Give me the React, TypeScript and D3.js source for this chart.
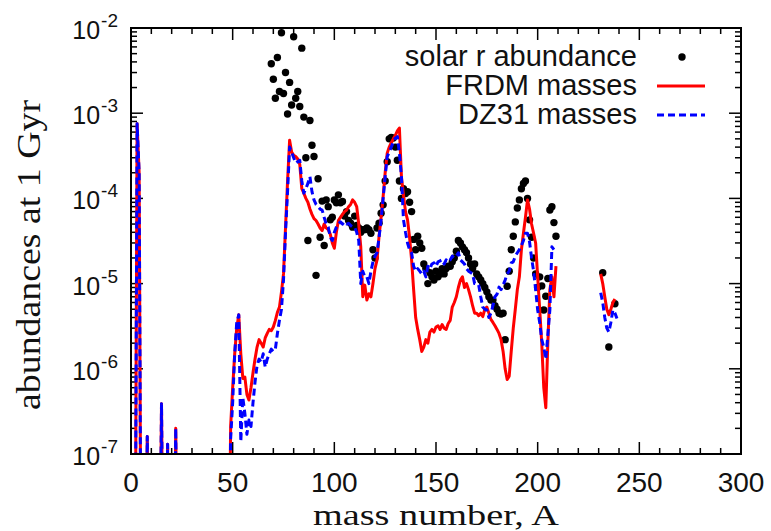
import React from "react";
import * as d3 from "d3";

// ---- data ----
const solarA = [69,70,71,72,73,74,75,76,77,78,79,80,81,82,83,84,85,86,87,88,89,90,91,92,93,
  94,95,96,97,98,99,100,101,102,103,104,105,106,107,108,109,110,111,112,113,114,115,116,117,118,119,120,
  121,122,123,124,125,126,127,128,129,130,131,132,133,134,135,136,137,138,139,140,141,142,143,144,145,146,
  147,148,149,150,151,152,153,154,155,156,157,158,159,160,161,162,163,164,165,166,167,168,169,170,171,172,
  173,174,175,176,177,178,179,180,181,182,183,184,185,186,187,188,189,190,191,192,193,194,195,196,197,198,
  199,200,201,202,203,204,205,206,207,208,209,232,235,238];
const solarR = [3.8e-3,2.5e-3,1.5e-3,4.5e-3,1.8e-3,8.8e-3,1.7e-3,3.0e-3,9.8e-4,2.3e-3,1.25e-3,7.9e-3,1.5e-3,1.8e-3,1.2e-3,5.8e-3,9e-4,3e-4,3.2e-5,8.2e-4,4.2e-4,3.1e-4,1.25e-5,1.7e-4,3.5e-5,
  9.3e-5,2.8e-5,9.6e-5,8e-5,5.6e-5,6e-5,9.6e-5,8.9e-5,1.1e-4,8.9e-5,9.2e-5,6.2e-5,7e-5,5.5e-5,5.1e-5,4.6e-5,6.2e-5,4.8e-5,4.5e-5,4.0e-5,4.3e-5,4.3e-5,4.5e-5,4.3e-5,3.9e-5,2.5e-5,2.0e-5,
  4.5e-5,5.1e-5,6.7e-5,8.4e-5,1.6e-4,2.7e-4,5e-4,5.2e-4,5.1e-4,4e-4,2.8e-4,1.6e-4,1e-4,1.3e-4,1.14e-4,1.2e-4,9e-5,7e-5,3.3e-5,2.5e-5,3.6e-5,3e-5,2.6e-5,1.7e-5,1.5e-5,1e-5,
  1.34e-5,1.2e-5,1.1e-5,1.4e-5,1.2e-5,1.3e-5,1.5e-5,1.3e-5,1.5e-5,1.6e-5,1.6e-5,1.8e-5,2.0e-5,2.4e-5,3.2e-5,3.0e-5,2.7e-5,2.5e-5,2.3e-5,2.0e-5,1.7e-5,1.5e-5,1.7e-5,1.3e-5,1.2e-5,1.1e-5,
  1.0e-5,9e-6,8e-6,7e-6,6.4e-6,6.4e-6,5.5e-6,5e-6,4.5e-6,4.4e-6,4.5e-6,2.2e-6,9.3e-6,1.4e-5,2.5e-5,3.6e-5,5.3e-5,7.7e-5,9.6e-5,1.3e-4,1.5e-4,1.6e-4,1e-4,5.6e-5,3.5e-5,2.0e-5,
  1.3e-5,9e-6,1.2e-5,9.4e-6,4.9e-6,7.1e-6,1.15e-5,7.3e-5,8e-5,5.2e-5,3.6e-5,1.34e-5,1.8e-6,5.8e-6];

const frdmA = [2,3,4,5,7,8,9,14,15,16,17,18,19,21,22,23,48,
  49,50,51,52,53,54,55,56,57,58,59,60,61,62,63,64,65,66,67,68,69,70,71,72,73,74,75,76,77,78,79,80,81,82,83,
  84,85,86,87,88,89,90,91,92,93,94,95,96,97,98,99,100,101,102,103,104,105,106,107,108,109,110,111,112,113,114,115,116,117,118,119,120,
  121,122,123,124,125,126,127,128,129,130,131,132,133,134,135,136,137,138,139,140,141,142,143,144,145,146,147,148,149,150,
  151,152,153,154,155,156,157,158,159,160,161,162,163,164,165,166,167,168,169,170,171,172,173,174,175,176,177,178,179,180,
  181,182,183,184,185,186,187,188,189,190,191,192,193,194,195,196,197,198,199,200,201,202,203,204,205,206,207,208,209,
  220,231,232,233,234,235,236,237,238];
const frdmY = [1e-9,7.5e-4,2e-4,1e-9,1e-9,1.6e-7,1e-9,1e-9,3.9e-7,1e-9,1e-9,1.3e-7,1e-9,1e-9,2e-7,1e-9,1e-9,
  2.1e-7,6e-7,1.5e-6,3e-6,4.3e-6,1.5e-6,7.7e-7,8e-7,5e-7,4.3e-7,6e-7,9e-7,1.3e-6,1.8e-6,2.2e-6,2e-6,1.8e-6,2.3e-6,2.6e-6,2.9e-6,2.8e-6,3.1e-6,3.7e-6,4.6e-6,5.3e-6,8e-6,1.3e-5,4.6e-5,1.6e-4,4.8e-4,3.5e-4,3.2e-4,3.1e-4,2.9e-4,2.5e-4,
  1.3e-4,1.15e-4,1e-4,9e-5,7.5e-5,6.5e-5,5.8e-5,5.5e-5,5e-5,4.5e-5,4.2e-5,5e-5,4.5e-5,4.3e-5,3.8e-5,3e-5,2.6e-5,4e-5,5.5e-5,6e-5,6.5e-5,7e-5,7.3e-5,8e-5,8.5e-5,9.6e-5,9e-5,8e-5,5e-5,2.7e-5,7e-6,9.6e-6,6.4e-6,7.6e-6,7e-6,1e-5,1.5e-5,
  1.9e-5,3.6e-5,6e-5,1.05e-4,2e-4,3.4e-4,4e-4,4.5e-4,5e-4,5.5e-4,6.2e-4,6.7e-4,1.8e-4,1.1e-4,7e-5,5.6e-5,3.5e-5,1.9e-5,8.5e-6,4e-6,2.9e-6,2.2e-6,1.6e-6,1.8e-6,2.2e-6,2e-6,2.7e-6,2.9e-6,2.7e-6,3.1e-6,
  3.2e-6,2.9e-6,3.3e-6,3e-6,2.9e-6,3.4e-6,3.7e-6,5.3e-6,6e-6,7e-6,9e-6,1.1e-5,1.2e-5,9e-6,1e-5,8.5e-6,7e-6,5.5e-6,4.5e-6,4.5e-6,4.2e-6,4.5e-6,4.1e-6,5e-6,5.3e-6,4.5e-6,3.8e-6,3.5e-6,3.2e-6,2.9e-6,
  2.6e-6,2.2e-6,1.6e-6,1e-6,7.5e-7,8.2e-7,1.6e-6,3e-6,5e-6,8.5e-6,1.2e-5,2.5e-5,3.9e-5,6e-5,9.6e-5,7.5e-5,5e-5,3.9e-5,3e-5,1.2e-5,5e-6,2e-6,6e-7,3.5e-7,2e-6,8.5e-6,1.2e-5,7e-6,1.6e-5,
  null,1.3e-5,1e-5,7e-6,5e-6,4.3e-6,5e-6,6e-6,6.6e-6];

const dz31A = [2,3,4,5,7,8,9,14,15,16,17,18,19,21,22,23,48,
  49,50,51,52,53,54,55,56,57,58,59,60,61,62,63,64,65,66,67,68,69,70,71,72,73,74,75,76,77,78,79,80,81,82,83,
  84,85,86,87,88,89,90,91,92,93,94,95,96,97,98,99,100,101,102,103,104,105,106,107,108,109,110,111,112,113,114,115,116,117,118,119,120,
  121,122,123,124,125,126,127,128,129,130,131,132,133,134,135,136,137,138,139,140,141,142,143,144,145,146,147,148,149,150,
  151,152,153,154,155,156,157,158,159,160,161,162,163,164,165,166,167,168,169,170,171,172,173,174,175,176,177,178,179,180,
  181,182,183,184,185,186,187,188,189,190,191,192,193,194,195,196,197,198,199,200,201,202,203,204,205,206,207,208,
  220,231,232,233,234,235,236,237,238,239];
const dz31Y = [1e-9,7.5e-4,2e-4,1e-9,1e-9,1.6e-7,1e-9,1e-9,3.9e-7,1e-9,1e-9,1.3e-7,1e-9,1e-9,2e-7,1e-9,1e-9,
  1.5e-7,4e-7,1.5e-6,3.5e-6,4.3e-6,1.4e-7,4.6e-7,3e-7,1.7e-7,2.5e-7,2.1e-7,4e-7,7e-7,1.1e-6,1.3e-6,1.2e-6,1.5e-6,1.05e-6,1.3e-6,1.5e-6,1.7e-6,1.6e-6,1.7e-6,2.6e-6,3.7e-6,5e-6,1.1e-5,4e-5,1.2e-4,4e-4,3.5e-4,3e-4,2.6e-4,2.7e-4,2.8e-4,
  1.6e-4,1.15e-4,1.3e-4,1.5e-4,1.8e-4,1.2e-4,9.6e-5,8.5e-5,8e-5,7.5e-5,7.3e-5,6e-5,5e-5,4.6e-5,3.5e-5,3.2e-5,4e-5,4.6e-5,5e-5,5.3e-5,5e-5,5.3e-5,5e-5,5.1e-5,4.8e-5,4.6e-5,4.6e-5,4e-5,3.2e-5,1e-5,1.4e-5,1.2e-5,1.2e-5,1e-5,1.4e-5,1.8e-5,2.1e-5,
  2.3e-5,3.5e-5,5.6e-5,1e-4,1.8e-4,3.1e-4,3.5e-4,4e-4,4.6e-4,5.1e-4,5.3e-4,3.4e-4,1.8e-4,5.6e-5,4e-5,3e-5,2.5e-5,2.3e-5,1.6e-5,1.4e-5,1.5e-5,1.4e-5,1.3e-5,1.4e-5,1.2e-5,1.6e-5,1.5e-5,1.7e-5,1.75e-5,1.6e-5,
  1.8e-5,1.85e-5,1.9e-5,1.7e-5,1.9e-5,1.8e-5,1.9e-5,2.1e-5,2e-5,2.1e-5,2.3e-5,1.9e-5,1.8e-5,1.7e-5,1.5e-5,1.4e-5,1.35e-5,1.3e-5,1e-5,1e-5,9.6e-6,7e-6,5.3e-6,5e-6,4.9e-6,4e-6,4.5e-6,5.5e-6,7e-6,7.5e-6,
  9.1e-6,8.5e-6,9.6e-6,1.1e-5,1.3e-5,1.4e-5,1.75e-5,1.8e-5,2.1e-5,2.3e-5,2.5e-5,2.8e-5,3.2e-5,3.9e-5,3.9e-5,3.1e-5,2e-5,1.4e-5,8.5e-6,4.9e-6,3.5e-6,2.2e-6,1.8e-6,1.3e-6,2.5e-6,4.9e-6,2.7e-5,2.5e-5,
  null,7.8e-6,6e-6,4e-6,3e-6,2.7e-6,3.5e-6,4.9e-6,4.5e-6,3.9e-6];

const xTickValues = [0, 50, 100, 150, 200, 250, 300];
const yTickExponents = [-7, -6, -5, -4, -3, -2];
const legendLabels = ["solar r abundance", "FRDM masses", "DZ31 masses"];

const W = 771, H = 531;
const L = 131, R = 741, T = 28, B = 454;

export default function App() {
  const x = d3.scaleLinear().domain([0, 300]).range([L, R]);
  const y = d3.scaleLog().domain([1e-7, 1e-2]).range([B, T]);

  const line = d3.line<[number, number | null]>()
    .defined(d => d[1] != null)
    .x(d => x(d[0]))
    .y(d => y(d[1] as number));

  const frdm = frdmA.map((a, i) => [a, frdmY[i]] as [number, number | null]);
  const dz31 = dz31A.map((a, i) => [a, dz31Y[i]] as [number, number | null]);

  const xMinor = d3.range(0, 301, 10).filter(v => v % 50 !== 0);
  const yMinor: number[] = [];
  for (let e = -7; e < -2; e++) for (let k = 2; k <= 9; k++) yMinor.push(k * Math.pow(10, e));

  const maj = 12, mnr = 6;
  const sans = "'Liberation Sans', Arial, Helvetica, sans-serif";
  const serif = "'Liberation Serif', 'Times New Roman', serif";

  return (
    <svg width={W} height={H} style={{ position: "fixed", left: 0, top: 0, background: "#fff" }}>
      <defs>
        <clipPath id="plotclip">
          <rect x={L} y={T} width={R - L} height={B - T} />
        </clipPath>
      </defs>
      <rect x={0} y={0} width={W} height={H} fill="#fff" />

      {/* ticks */}
      <g stroke="#000" strokeWidth={1.5}>
        {xTickValues.map(v => (
          <g key={"xt" + v}>
            <line x1={x(v)} x2={x(v)} y1={B} y2={B - maj} />
            <line x1={x(v)} x2={x(v)} y1={T} y2={T + maj} />
          </g>
        ))}
        {xMinor.map(v => (
          <g key={"xm" + v}>
            <line x1={x(v)} x2={x(v)} y1={B} y2={B - mnr} />
            <line x1={x(v)} x2={x(v)} y1={T} y2={T + mnr} />
          </g>
        ))}
        {yTickExponents.map(e => (
          <g key={"yt" + e}>
            <line x1={L} x2={L + maj} y1={y(Math.pow(10, e))} y2={y(Math.pow(10, e))} />
            <line x1={R} x2={R - maj} y1={y(Math.pow(10, e))} y2={y(Math.pow(10, e))} />
          </g>
        ))}
        {yMinor.map((v, i) => (
          <g key={"ym" + i}>
            <line x1={L} x2={L + mnr} y1={y(v)} y2={y(v)} />
            <line x1={R} x2={R - mnr} y1={y(v)} y2={y(v)} />
          </g>
        ))}
      </g>

      {/* tick labels */}
      <g fontFamily={sans} fill="#111">
        {xTickValues.map(v => (
          <text key={"xl" + v} x={x(v)} y={B + 38} textAnchor="middle" fontSize={28}>{v}</text>
        ))}
        {yTickExponents.map(e => (
          <text key={"yl" + e} x={118} y={y(Math.pow(10, e)) + 11} textAnchor="end" fontSize={25}>
            10<tspan fontSize={19} dy={-12} dx={1}>{String(e)}</tspan>
          </text>
        ))}
      </g>

      {/* axis titles */}
      <text x={(L + R) / 2} y={525} textAnchor="middle" fontFamily={serif} fontSize={30}
        textLength={246} lengthAdjust="spacingAndGlyphs" fill="#111">mass number, A</text>
      <text transform={`translate(40,${(T + B) / 2 + 14}) rotate(-90)`} textAnchor="middle" fontFamily={serif} fontSize={33}
        textLength={310} lengthAdjust="spacingAndGlyphs" fill="#111">abundances at 1 Gyr</text>

      {/* data */}
      <g clipPath="url(#plotclip)">
        {solarA.map((a, i) => (
          <circle key={"s" + i} cx={x(a)} cy={y(solarR[i])} r={3.7} fill="#000" />
        ))}
        <path d={line(frdm) || ""} fill="none" stroke="#ff0000" strokeWidth={3} strokeLinejoin="round" />
        <path d={line(dz31) || ""} fill="none" stroke="#0000ff" strokeWidth={3} strokeDasharray="7,4" strokeLinejoin="round" />
      </g>

      {/* frame */}
      <rect x={L} y={T} width={R - L} height={B - T} fill="none" stroke="#000" strokeWidth={2} />

      {/* legend */}
      <g fontFamily={sans} fontSize={29} fill="#111">
        <text x={637} y={66} textAnchor="end">{legendLabels[0]}</text>
        <text x={637} y={95} textAnchor="end">{legendLabels[1]}</text>
        <text x={637} y={124} textAnchor="end">{legendLabels[2]}</text>
        <circle cx={682} cy={57} r={3.7} fill="#000" />
        <line x1={657} x2={705} y1={86} y2={86} stroke="#ff0000" strokeWidth={3} />
        <line x1={657} x2={705} y1={115} y2={115} stroke="#0000ff" strokeWidth={3} strokeDasharray="7,4" />
      </g>
    </svg>
  );
}
